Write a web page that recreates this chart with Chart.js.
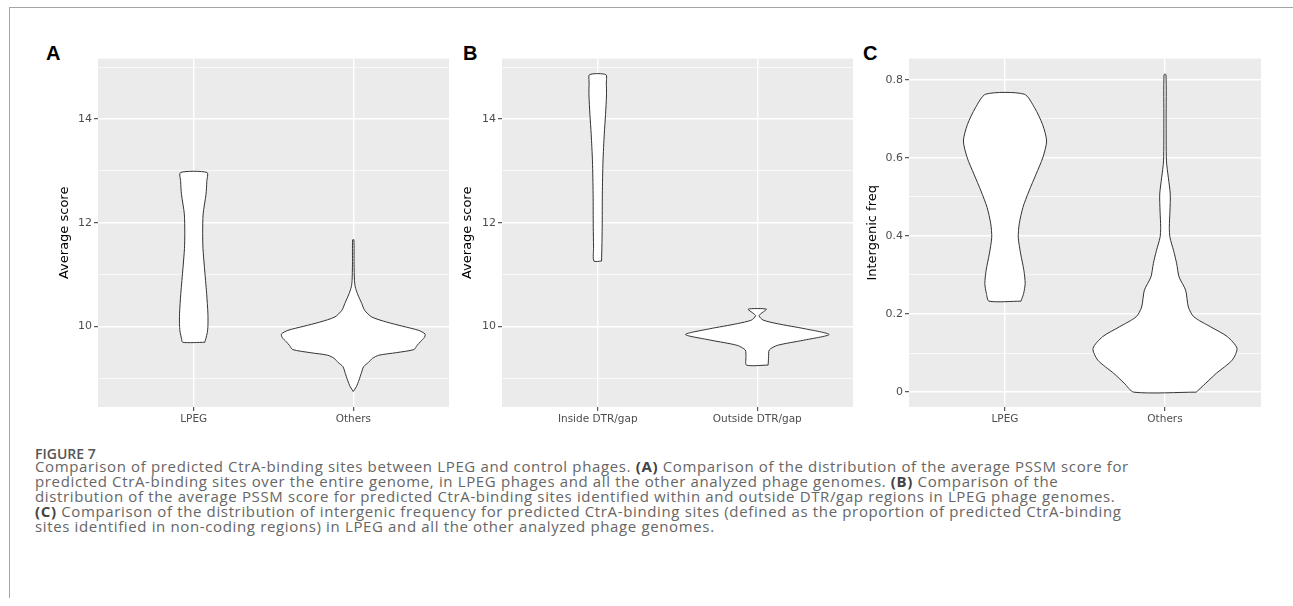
<!DOCTYPE html>
<html>
<head>
<meta charset="utf-8">
<script src="https://cdn.jsdelivr.net/npm/chart.js@4.4.0/dist/chart.umd.min.js"></script>
<style>
  body { margin: 0; background: #fff; width: 1293px; height: 606px; position: relative; overflow: hidden; }
  .frame { position: absolute; left: 9px; top: 7px; width: 1290px; height: 590px; border-top: 1px solid #a4a4a4; border-left: 1px solid #a4a4a4; }
  canvas { position: absolute; top: 50px; }
  .letter { position: absolute; top: 42px; font: bold 20px "Liberation Sans", Arial, sans-serif; color: #000; }
  .fig { position: absolute; left: 35px; top: 444px; font: 600 14px "Open Sans", sans-serif; color: #555; }
  .cap { position: absolute; left: 35px; top: 459px; font: 15px/15px "Open Sans", sans-serif; letter-spacing: 0.64px; color: #666; white-space: nowrap; }
  .cap b { color: #444; font-weight: 700; }
</style>
</head>
<body>
<div class="frame"></div>
<div class="letter" style="left:46px">A</div>
<div class="letter" style="left:463px">B</div>
<div class="letter" style="left:863px">C</div>
<canvas id="chartA" width="412" height="380" style="left:40px"></canvas>
<canvas id="chartB" width="401" height="380" style="left:455px"></canvas>
<canvas id="chartC" width="404" height="380" style="left:860px"></canvas>
<div class="fig">FIGURE 7</div>
<div class="cap">
<div>Comparison of predicted CtrA-binding sites between LPEG and control phages. <b>(A)</b> Comparison of the distribution of the average PSSM score for</div>
<div>predicted CtrA-binding sites over the entire genome, in LPEG phages and all the other analyzed phage genomes. <b>(B)</b> Comparison of the</div>
<div>distribution of the average PSSM score for predicted CtrA-binding sites identified within and outside DTR/gap regions in LPEG phage genomes.</div>
<div><b>(C)</b> Comparison of the distribution of intergenic frequency for predicted CtrA-binding sites (defined as the proportion of predicted CtrA-binding</div>
<div>sites identified in non-coding regions) in LPEG and all the other analyzed phage genomes.</div>
</div>
<script>
// categories
var groupsA = ['LPEG', 'Others'];
var groupsB = ['Inside DTR/gap', 'Outside DTR/gap'];
var groupsC = ['LPEG', 'Others'];

// tick labels
var scoreTicks = [9, 10, 11, 12, 13, 14, 15];
var scoreTickLabels = ['', '10', '', '12', '', '14', ''];
var freqTicks = [0, 0.1, 0.2, 0.3, 0.4, 0.5, 0.6, 0.7, 0.8];
var freqTickLabels = ['0', '', '0.2', '', '0.4', '', '0.6', '', '0.8'];

// violin outlines: value levels and half widths (in category units)
var aLpegY = [9.69, 9.77, 9.88, 10.0, 10.24, 10.63, 11.14, 11.5, 11.79, 12.17, 12.55, 12.8, 12.97];
var aLpegW = [0.069, 0.077, 0.085, 0.089, 0.089, 0.081, 0.067, 0.058, 0.056, 0.059, 0.077, 0.082, 0.083];
var aOthY = [8.74, 8.83, 8.96, 9.09, 9.22, 9.3, 9.38, 9.44, 9.49, 9.55, 9.63, 9.7, 9.78, 9.85, 9.92, 10.0, 10.08, 10.18, 10.31, 10.44, 10.53, 10.63, 10.76, 10.88, 11.2, 11.67];
var aOthW = [0, 0.019, 0.036, 0.05, 0.065, 0.095, 0.12, 0.16, 0.27, 0.38, 0.4, 0.42, 0.445, 0.45, 0.41, 0.31, 0.21, 0.115, 0.071, 0.053, 0.04, 0.026, 0.0125, 0.0075, 0.005, 0.004];

var bInY = [11.26, 11.53, 11.91, 12.55, 13.19, 13.71, 14.09, 14.47, 14.7, 14.86];
var bInW = [0.024, 0.026, 0.028, 0.029, 0.033, 0.041, 0.049, 0.055, 0.054, 0.051];
var bOutY = [9.25, 9.41, 9.54, 9.63, 9.73, 9.84, 9.95, 10.05, 10.12, 10.2, 10.24, 10.33];
var bOutW = [0.068, 0.071, 0.075, 0.125, 0.29, 0.45, 0.3, 0.125, 0.036, 0.011, 0.021, 0.057];

var cLpegY = [0.233, 0.252, 0.278, 0.312, 0.354, 0.396, 0.431, 0.473, 0.515, 0.558, 0.6, 0.643, 0.685, 0.728, 0.763];
var cLpegW = [0.1, 0.116, 0.126, 0.118, 0.098, 0.083, 0.089, 0.112, 0.15, 0.194, 0.236, 0.26, 0.235, 0.185, 0.12];
var cOthY = [0, 0.023, 0.048, 0.082, 0.112, 0.142, 0.167, 0.193, 0.218, 0.261, 0.295, 0.329, 0.362, 0.396, 0.422, 0.464, 0.507, 0.549, 0.592, 0.7, 0.813];
var cOthW = [0.195, 0.255, 0.32, 0.42, 0.45, 0.39, 0.286, 0.18, 0.146, 0.129, 0.088, 0.073, 0.054, 0.031, 0.027, 0.031, 0.033, 0.021, 0.009, 0.007, 0.006];

function violin(pos, ys, ws) {
  var pts = [];
  for (var i = 0; i < ys.length; i++) pts.push({x: pos + ws[i], y: ys[i]});
  for (var j = ys.length - 1; j >= 0; j--) pts.push({x: pos - ws[j], y: ys[j]});
  pts.push(pts[0]);
  return {
    data: pts,
    showLine: true,
    fill: 'shape',
    backgroundColor: '#ffffff',
    borderColor: '#333333',
    borderWidth: 1,
    pointRadius: 0,
    tension: 0.25
  };
}

var panelBg = {
  id: 'panelBg',
  beforeDraw: function(chart) {
    var a = chart.chartArea, ctx = chart.ctx;
    ctx.save();
    ctx.fillStyle = '#EBEBEB';
    ctx.fillRect(a.left, a.top, a.right - a.left, a.bottom - a.top);
    ctx.restore();
  }
};

function makeChart(id, groups, sets, yTicks, yLabels, yMin, yMax, yTitle, yWidth, titlePad) {
  var isMajor = function(c) { return yLabels[c.index] !== ''; };
  new Chart(document.getElementById(id), {
    type: 'scatter',
    data: { datasets: sets },
    plugins: [panelBg],
    options: {
      responsive: false,
      animation: false,
      events: [],
      layout: { padding: { top: 7, right: 3, left: 0, bottom: 0 } },
      plugins: { legend: { display: false }, tooltip: { enabled: false } },
      scales: {
        x: {
          type: 'linear', min: 0.4, max: 2.6,
          afterBuildTicks: function(s) { s.ticks = groups.map(function(g, i) { return {value: i + 1}; }); },
          afterFit: function(s) { s.height = 23; },
          border: { display: false },
          grid: { color: '#ffffff', lineWidth: 1.4, tickLength: 4, tickColor: '#333333', tickWidth: 1 },
          ticks: {
            color: '#4D4D4D', padding: 2, maxRotation: 0,
            font: { family: 'DejaVu Sans', size: 10.5 },
            callback: function(v) { return groups[Math.round(v) - 1]; }
          }
        },
        y: {
          min: yMin, max: yMax,
          afterBuildTicks: function(s) { s.ticks = yTicks.map(function(v) { return {value: v}; }); },
          afterFit: function(s) { s.width = yWidth; },
          border: { display: false },
          grid: {
            color: '#ffffff',
            lineWidth: function(c) { return isMajor(c) ? 1.4 : 0.7; },
            tickLength: 4,
            tickColor: function(c) { return isMajor(c) ? '#333333' : 'rgba(0,0,0,0)'; },
            tickWidth: 1
          },
          ticks: {
            color: '#4D4D4D', padding: 2,
            font: { family: 'DejaVu Sans', size: 11 },
            callback: function(v, i) { return yLabels[i]; }
          },
          title: {
            display: true, text: yTitle, color: '#000000',
            font: { family: 'DejaVu Sans', size: 13 },
            padding: { top: titlePad, bottom: 0 }
          }
        }
      }
    }
  });
}

makeChart('chartA', groupsA, [violin(1, aLpegY, aLpegW), violin(2, aOthY, aOthW)],
  scoreTicks, scoreTickLabels, 8.44, 15.17, 'Average score', 58, 17);
makeChart('chartB', groupsB, [violin(1, bInY, bInW), violin(2, bOutY, bOutW)],
  scoreTicks, scoreTickLabels, 8.44, 15.17, 'Average score', 47, 5);
makeChart('chartC', groupsC, [violin(1, cLpegY, cLpegW), violin(2, cOthY, cOthW)],
  freqTicks, freqTickLabels, -0.038, 0.854, 'Intergenic freq', 49, 5);
</script>
</body>
</html>
